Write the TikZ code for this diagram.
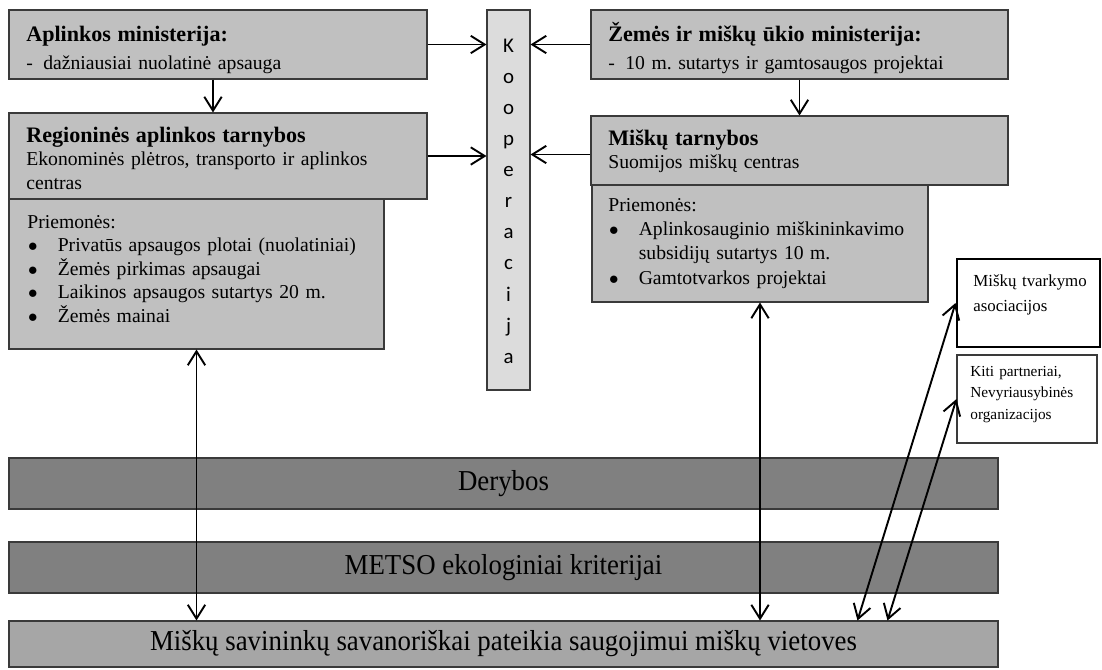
\documentclass[tikz,border=0pt]{standalone}
\usepackage{fontspec}
\setmainfont{Liberation Serif}
\newfontfamily\koopfont{Carlito}
\usetikzlibrary{arrows.meta, positioning, calc, fit}

\definecolor{boxgray}{HTML}{C0C0C0}
\definecolor{koopgray}{HTML}{DCDCDC}
\definecolor{bargray}{HTML}{808080}
\definecolor{basegray}{HTML}{A6A6A6}
\definecolor{edgegray}{HTML}{3A3A3A}

\tikzset{
  box/.style={draw=edgegray, line width=0.6pt, fill=boxgray, inner sep=0pt},
  txt/.style={anchor=base west, align=left, inner sep=0pt, font=\fontsize{11.3}{13.6}\selectfont},
  bar/.style={draw=edgegray, line width=0.6pt, inner sep=0pt},
  bartxt/.style={inner sep=0pt, font=\fontsize{16.6}{18}\selectfont},
  arr/.style={-{Straight Barb[length=8pt,width=10pt]}, line width=1.1pt},
  dblarr/.style={{Straight Barb[length=8pt,width=10pt]}-{Straight Barb[length=8pt,width=10pt]}, line width=1.1pt}
}
\newcommand{\antraste}[1]{{\fontsize{12.7}{14}\selectfont\bfseries #1}}
\newcommand{\punktas}{\makebox[17.5pt][l]{\hspace{0.5pt}$\bullet$}}

\begin{document}
\frenchspacing
\begin{tikzpicture}[x=0.575pt, y=-0.575pt]
\useasboundingbox (0,0) rectangle (1102,669);

% ministerijos ir tarnybos
\node[box, fit={(9,10) (427,79)}] (apl) {};
\node[box, fit={(9,113) (427,199)}] (reg) {};
\node[box, fit={(9,199) (384,349)}] (prl) {};
\node[box, fit={(591,10) (1008,79)}] (zem) {};
\node[box, fit={(591,116) (1008,185)}] (mtar) {};
\node[box, fit={(592,185) (928,302)}] (prr) {};
\node[box, fill=koopgray, fit={(487,10) (530,390)}] (koop) {};

\node[txt, text width=225pt] (apltxt) at (26,41) {\antraste{Aplinkos ministerija:}\\[2.6pt]-\hspace{6pt}dažniausiai nuolatinė apsauga};
\node[txt, text width=225pt] (regtxt) at (26,142) {\antraste{Regioninės aplinkos tarnybos}\\Ekonominės plėtros, transporto ir aplinkos\\centras};
\node[txt, text width=205pt] (prltxt) at (27,228) {Priemonės:\\\punktas Privatūs apsaugos plotai (nuolatiniai)\\\punktas Žemės pirkimas apsaugai\\\punktas Laikinos apsaugos sutartys 20 m.\\\punktas Žemės mainai};
\node[txt, text width=225pt] (zemtxt) at (608,41) {\antraste{Žemės ir miškų ūkio ministerija:}\\[2.6pt]-\hspace{6pt}10 m. sutartys ir gamtosaugos projektai};
\node[txt, text width=225pt] (mtartxt) at (608,145) {\antraste{Miškų tarnybos}\\Suomijos miškų centras};
\node[txt, text width=185pt, font=\fontsize{11.3}{14}\selectfont] (prrtxt) at (608,211) {Priemonės:\\\punktas Aplinkosauginio miškininkavimo\\\makebox[17.5pt]{}subsidijų sutartys 10 m.\\\punktas Gamtotvarkos projektai};
\node[font=\koopfont\fontsize{12}{17.9}\selectfont, align=center, text width=20pt, anchor=base, inner sep=0pt] (kooptxt) at (508.5,52) {K\\o\\o\\p\\e\\r\\a\\c\\i\\j\\a};

% partneriai
\node[draw=black, line width=1.7pt, fill=white, inner sep=0pt, fit={(957,259) (1100,347)}] (mta) {};
\node[draw=edgegray, line width=0.6pt, fill=white, inner sep=0pt, fit={(957,355) (1097,443)}] (kiti) {};
\node[txt, font=\fontsize{9.7}{14.5}\selectfont, text width=75pt] (mtatxt) at (973,286) {Miškų tvarkymo\\asociacijos};
\node[txt, font=\fontsize{8.8}{12.6}\selectfont, text width=75pt] (kititxt) at (970,376) {Kiti partneriai,\\Nevyriausybinės\\organizacijos};

% juostos
\node[bar, fill=bargray, fit={(9,458) (998,509)}] (der) {};
\node[bar, fill=bargray, fit={(9,542) (998,593)}] (metso) {};
\node[bar, fill=basegray, fit={(9,621) (998,667)}] (sav) {};
\node[bartxt] (dertxt) at (der.center) {\scalebox{0.93}[1]{Derybos}};
\node[bartxt] (metsotxt) at (metso.center) {\scalebox{0.93}[1]{METSO ekologiniai kriterijai}};
\node[bartxt] (savtxt) at (sav.center) {\scalebox{0.93}[1]{Miškų savininkų savanoriškai pateikia saugojimui miškų vietoves}};

% rodyklės
\draw[arr] (apl.east) -- (apl.east -| koop.west);
\draw[arr] (reg.east) -- (reg.east -| koop.west);
\draw[arr] (zem.west) -- (zem.west -| koop.east);
\draw[arr] ($(mtar.west)+(0,4)$) -- ($(mtar.west -| koop.east)+(0,4)$);
\draw[arr] ($(apl.south)+(-5,0)$) -- ($(apl.south |- reg.north)+(-5,0)$);
\draw[arr] (zem.south) -- (zem.south |- mtar.north);
\draw[dblarr] (prl.south) -- (prl.south |- sav.north);
\draw[dblarr] (prr.south) -- (prr.south |- sav.north);
\draw[dblarr] ($(sav.north west)+(849,0)$) -- (mta.west);
\draw[dblarr] ($(sav.north west)+(879,0)$) -- (kiti.west);
\end{tikzpicture}
\end{document}
